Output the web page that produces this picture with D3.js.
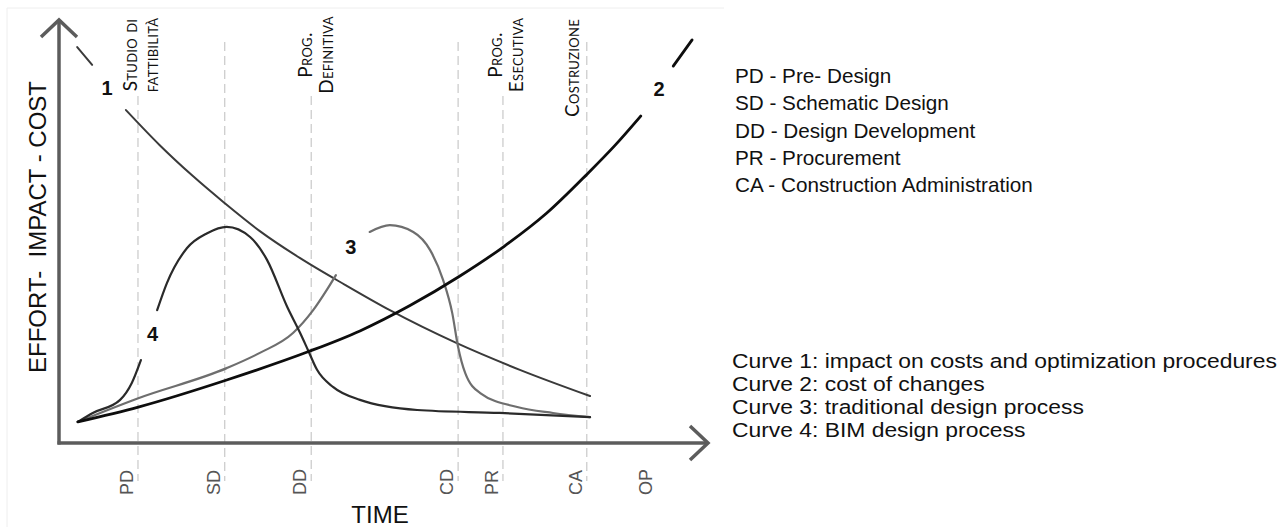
<!DOCTYPE html>
<html>
<head>
<meta charset="utf-8">
<script src="https://cdn.jsdelivr.net/npm/d3@7/dist/d3.min.js"></script>
<style>
  html, body { margin: 0; padding: 0; background: #fff; }
  svg { display: block; }
</style>
</head>
<body>
<svg id="chart" width="1281" height="527"></svg>
<script>
// ---------- DATA (time units 0..100, value units 0..100) ----------
const phases      = ["PD", "SD", "DD", "CD", "PR", "CA", "OP"];
const phasePos    = [12.15, 25.5, 38.8, 61.4, 68.3, 81.2, 92.0];
const phaseLines  = [true, true, true, true, true, true, false];

const stageLabels = [["Studio di", "fattibilità"], ["Prog.", "Definitiva"], ["Prog.", "Esecutiva"], ["Costruzione"]];
const stagePos    = [12.0, 38.9, 68.15, 80.0];

// Curve 1: impact on costs and optimization procedures
const curve1X = [10.3, 15.5, 20.6, 25.5, 30.9, 37.1, 44.0, 50.9, 61.2, 70.9, 81.7];
const curve1Y = [78.7, 70.4, 63.1, 56.7, 50.1, 43.7, 37.4, 31.4, 23.6, 17.3, 11.1];
const curve1LeadX = [2.8, 5.1];
const curve1LeadY = [93.6, 89.4];

// Curve 2: cost of changes
const curve2X = [2.9, 12.2, 25.8, 38.2, 46.3, 54.0, 61.5, 68.5, 75.0, 81.2, 85.5, 89.5];
const curve2Y = [5.0, 8.5, 14.9, 21.5, 26.5, 32.5, 39.3, 46.5, 54.3, 63.5, 70.3, 77.3];
const curve2LeadX = [94.5, 97.4];
const curve2LeadY = [89.1, 95.3];

// Curve 3: traditional design process (two pieces, gap for label)
const curve3aX = [2.9, 12.2, 25.8, 30.9, 36.0, 39.1, 41.2, 42.6];
const curve3aY = [5.0, 10.6, 17.7, 21.3, 26.0, 31.4, 36.2, 39.7];
const curve3bX = [47.8, 50.9, 54.5, 57.1, 59.1, 60.5, 61.4, 62.5, 64.8, 70.5, 76.0, 81.7];
const curve3bY = [49.9, 51.5, 49.9, 45.6, 38.5, 30.7, 22.7, 16.5, 11.8, 8.5, 7.1, 6.1];

// Curve 4: BIM design process (two pieces, gap for label)
const curve4aX = [2.9, 5.2, 9.4, 11.2, 12.6];
const curve4aY = [5.0, 7.1, 10.2, 14.2, 19.6];
const curve4bX = [15.1, 16.6, 19.7, 22.8, 25.8, 29.4, 32.0, 35.1, 37.1, 38.3, 39.7, 42.2, 46.3, 55.1, 67.8, 81.7];
const curve4bY = [31.4, 37.8, 46.1, 49.6, 51.1, 48.7, 43.3, 32.2, 26.0, 22.0, 17.3, 13.2, 10.2, 7.8, 7.1, 6.1];

const curveNames  = ["1", "2", "3", "4"];
const curveNameX  = [7.4, 92.3, 44.9, 14.4];
const curveNameY  = [84.0, 83.7, 46.3, 25.8];

const phaseLegend = ["PD - Pre- Design", "SD - Schematic Design", "DD - Design Development", "PR - Procurement", "CA - Construction Administration"];
const curveLegend = ["Curve 1: impact on costs and optimization procedures", "Curve 2: cost of changes", "Curve 3: traditional design process", "Curve 4: BIM design process"];

const yTitle = "EFFORT-  IMPACT - COST";
const xTitle = "TIME";

// ---------- DRAWING ----------
const svg = d3.select("#chart");
const x = d3.scaleLinear().domain([0, 100]).range([59, 709]);
const y = d3.scaleLinear().domain([0, 100]).range([443, 20]);
const SANS = "'Liberation Sans', Arial, sans-serif";

// faint frame
svg.append("path").attr("d", "M7,527 V8 H724").attr("fill", "none").attr("stroke", "#eeeeee").attr("stroke-width", 1);

// phase dashed lines
const stagePx = stagePos.map(d => x(d));
phases.forEach((p, i) => {
  if (!phaseLines[i]) return;
  const px = x(phasePos[i]);
  const covered = stagePx.some(s => Math.abs(s - px) < 3);
  svg.append("line")
    .attr("x1", px).attr("x2", px)
    .attr("y1", covered ? 96 : 42).attr("y2", 481)
    .attr("stroke", "#c4c4c4").attr("stroke-width", 1.1)
    .attr("stroke-dasharray", "9,5");
});

// phase tick labels
phases.forEach((p, i) => {
  const px = x(phasePos[i]) - 5;
  svg.append("text")
    .attr("transform", `translate(${px},495) rotate(-90)`)
    .attr("font-family", SANS).attr("font-size", 18)
    .attr("fill", "#555").attr("text-anchor", "start")
    .text(p);
});

// stage labels (small caps, rotated)
stageLabels.forEach((lines, i) => {
  lines.forEach((t, j) => {
    const px = x(stagePos[i]) + j * 21;
    const cy = lines.length === 1 ? 68 : 55;
    svg.append("text")
      .attr("transform", `translate(${px},${cy}) rotate(-90)`)
      .attr("font-family", "Lato, 'Open Sans', sans-serif")
      .attr("font-size", 19)
      .style("font-variant", "small-caps")
      .attr("letter-spacing", 0.3)
      .attr("fill", "#111").attr("text-anchor", "middle")
      .text(t);
  });
});

// axes
const axisColor = "#5c5c5c";
svg.append("line").attr("x1", x(0)).attr("x2", x(0)).attr("y1", y(100)).attr("y2", y(0) + 1.5)
  .attr("stroke", axisColor).attr("stroke-width", 3.5);
svg.append("line").attr("x1", x(0) - 1.5).attr("x2", x(100) - 1).attr("y1", y(0)).attr("y2", y(0))
  .attr("stroke", axisColor).attr("stroke-width", 3.5);
svg.append("path")
  .attr("d", `M${x(0) - 18},${y(100) + 17} L${x(0)},${y(100)} L${x(0) + 18},${y(100) + 17}`)
  .attr("fill", "none").attr("stroke", axisColor).attr("stroke-width", 3.5).attr("stroke-linejoin", "miter");
svg.append("path")
  .attr("d", `M${x(100) - 19},${y(0) - 17} L${x(100) - 1},${y(0)} L${x(100) - 19},${y(0) + 17}`)
  .attr("fill", "none").attr("stroke", axisColor).attr("stroke-width", 3.5).attr("stroke-linejoin", "miter");

// curves
const line = d3.line().x(d => x(d[0])).y(d => y(d[1])).curve(d3.curveMonotoneX);
const zip = (a, b) => a.map((v, i) => [v, b[i]]);
const curves = [
  { xs: curve1X,  ys: curve1Y,  c: "#3a3a3a", w: 2.0 },
  { xs: curve1LeadX, ys: curve1LeadY, c: "#3a3a3a", w: 2.0 },
  { xs: curve3aX, ys: curve3aY, c: "#6e6e6e", w: 2.2 },
  { xs: curve3bX, ys: curve3bY, c: "#6e6e6e", w: 2.2 },
  { xs: curve4aX, ys: curve4aY, c: "#2a2a2a", w: 2.2 },
  { xs: curve4bX, ys: curve4bY, c: "#2a2a2a", w: 2.2 },
  { xs: curve2X,  ys: curve2Y,  c: "#0d0d0d", w: 2.8 },
  { xs: curve2LeadX, ys: curve2LeadY, c: "#0d0d0d", w: 2.8 }
];
curves.forEach(cv => {
  svg.append("path").attr("d", line(zip(cv.xs, cv.ys)))
    .attr("fill", "none").attr("stroke", cv.c).attr("stroke-width", cv.w)
    .attr("stroke-linecap", "round").attr("stroke-linejoin", "round");
});

// curve numbers
curveNames.forEach((n, i) => {
  svg.append("text")
    .attr("x", x(curveNameX[i])).attr("y", y(curveNameY[i]))
    .attr("dy", "0.36em")
    .attr("font-family", SANS).attr("font-weight", "bold").attr("font-size", 20)
    .attr("fill", "#111").attr("text-anchor", "middle")
    .text(n);
});

// axis titles
svg.append("text")
  .attr("transform", `translate(46,227) rotate(-90)`)
  .attr("font-family", SANS).attr("font-size", 24).attr("fill", "#111")
  .attr("text-anchor", "middle").attr("xml:space", "preserve").style("white-space", "pre")
  .text(yTitle);
svg.append("text")
  .attr("x", 380).attr("y", 523)
  .attr("font-family", SANS).attr("font-size", 24).attr("fill", "#111")
  .attr("text-anchor", "middle")
  .text(xTitle);

// legends
phaseLegend.forEach((t, i) => {
  svg.append("text").attr("x", 735).attr("y", 83 + i * 27.3)
    .attr("font-family", SANS).attr("font-size", 20.7).attr("fill", "#111")
    .text(t);
});
const curveLeg = svg.append("g").attr("transform", "translate(732,0) scale(1.115,1)");
curveLegend.forEach((t, i) => {
  curveLeg.append("text").attr("x", 0).attr("y", 368 + i * 23)
    .attr("font-family", SANS).attr("font-size", 20.5).attr("fill", "#111")
    .text(t);
});
</script>
</body>
</html>
